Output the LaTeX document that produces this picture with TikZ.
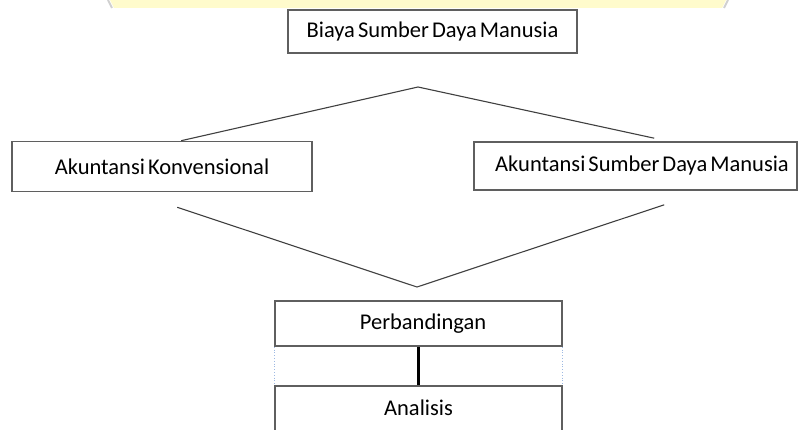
\documentclass[tikz,border=0pt]{standalone}
\usepackage{fontspec}
\setmainfont[WordSpace=0.6]{Carlito}
\usetikzlibrary{calc}
\definecolor{boxline}{HTML}{5F5F5F}
\definecolor{conline}{HTML}{404040}
\definecolor{wmyellow}{HTML}{FFFBCC}
\definecolor{wmgray}{HTML}{D0D0D0}
\definecolor{dotblue}{HTML}{9DB9E3}
\tikzset{
  box/.style={draw=boxline, line width=1.6pt, rectangle, inner sep=0pt,
    font=\fontsize{22.5}{26}\selectfont, text=black},
  con/.style={draw=conline, line width=1.1pt},
}
\begin{document}
\begin{tikzpicture}[x=1pt,y=-1pt]
\useasboundingbox (0,0) rectangle (798,430);
\clip (0,0) rectangle (798,430);
\fill[white] (0,0) rectangle (798,430);
% watermark band
\fill[wmyellow] (110,0) -- (726,0) -- (722,8) -- (114,8) -- cycle;
\draw[wmgray, line width=2pt] (108,0) -- (112,8);
\draw[wmgray, line width=2pt] (728,0) -- (724,8);
% boxes
\node[box, minimum width=289pt, minimum height=43pt] (top) at (432.5,31.5) {Biaya Sumber Daya Manusia};
\node[box, minimum width=300pt, minimum height=50pt] (left) at (162,166.5) {Akuntansi Konvensional};
\node[box, minimum width=323pt, minimum height=48pt] (right) at (635.5,166) {\hspace*{13pt}Akuntansi Sumber Daya Manusia};
\node[box, minimum width=287pt, minimum height=45pt] (perb) at (418.5,323.5) {\hspace*{9pt}Perbandingan};
\node[box, minimum width=287pt, minimum height=46pt] (anal) at (418.5,409) {\raisebox{3pt}{Analisis}};
% connectors
\coordinate (apex) at (418,87);
\coordinate (vee) at (417,287);
\coordinate (vl) at ($(left.south west)+(166,15)$);
\coordinate (vr) at ($(right.south west)+(191,14)$);
\draw[con] ($(left.north west)+(170,0)$) -- (apex) -- ($(right.north west)+(181,-3)$);
\draw[con] (vl) -- (vee) -- (vr);
\draw[dotblue, dotted, line width=0.8pt] (perb.south west) -- (anal.north west);
\draw[dotblue, dotted, line width=0.8pt] (perb.south east) -- (anal.north east);
\draw[black, line width=3pt] (perb.south) -- (anal.north);
\end{tikzpicture}
\end{document}
